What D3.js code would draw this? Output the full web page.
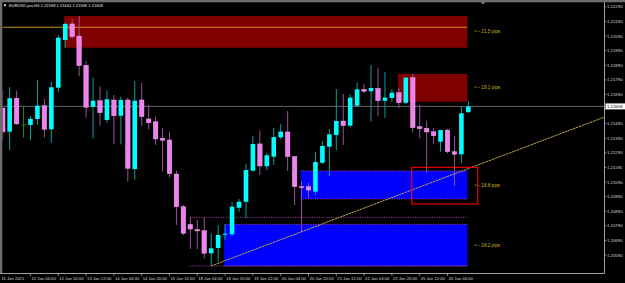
<!DOCTYPE html>
<html>
<head>
<meta charset="utf-8">
<script src="https://cdn.jsdelivr.net/npm/d3@7"></script>
<style>
  html, body { margin: 0; padding: 0; background: #000; overflow: hidden; }
  svg { display: block; font-family: "Liberation Sans", Arial, sans-serif; }
</style>
</head>
<body>
<div id="chart"></div>
<script>
// EURUSD.pro H4, one value per bar, first bar = 11 Jan 12:00
const opens = [1.21597,1.21435,1.21664,1.21485,1.21481,1.21522,1.21613,1.21451,1.21736,1.22063,
  1.22173,1.22090,1.21890,1.21606,1.21647,1.21515,1.21652,1.21544,1.21652,1.21179,
  1.21652,1.21522,1.21503,1.21390,1.21378,1.21145,1.20921,1.20800,1.20766,1.20757,
  1.20602,1.20638,1.20732,1.20732,1.20914,1.20955,1.21168,1.21351,1.21198,1.21264,
  1.21396,1.21433,1.21264,1.21058,1.21058,1.21024,1.21222,1.21332,1.21412,1.21508,
  1.21476,1.21613,1.21725,1.21712,1.21732,1.21647,1.21666,1.21702,1.21633,1.21805,
  1.21469,1.21458,1.21435,1.21366,1.21446,1.21298,1.21280,1.21568];
const highs = [1.21720,1.21741,1.21716,1.21611,1.21542,1.21789,1.21659,1.21777,1.22097,1.22184,
  1.22207,1.22227,1.21919,1.21805,1.21743,1.21716,1.21686,1.21675,1.21668,1.21782,
  1.21770,1.21618,1.21538,1.21458,1.21435,1.21168,1.20933,1.20848,1.20830,1.20848,
  1.20739,1.20796,1.20796,1.20953,1.20974,1.21214,1.21405,1.21442,1.21291,1.21462,
  1.21488,1.21577,1.21268,1.21097,1.21085,1.21296,1.21371,1.21453,1.21727,1.21693,
  1.21691,1.21770,1.21762,1.21892,1.21873,1.21844,1.21727,1.21732,1.21810,1.21830,
  1.21618,1.21510,1.21458,1.21446,1.21453,1.21405,1.21611,1.21644];
const lows = [1.21378,1.21309,1.21481,1.21394,1.21378,1.21481,1.21394,1.21359,1.21709,1.22010,
  1.22070,1.21816,1.21533,1.21390,1.21476,1.21496,1.21348,1.21348,1.21092,1.21104,
  1.21474,1.21451,1.21344,1.21161,1.21122,1.20796,1.20727,1.20631,1.20631,1.20568,
  1.20515,1.20544,1.20693,1.20720,1.20887,1.20842,1.21161,1.21138,1.21172,1.21207,
  1.21383,1.21166,1.20933,1.20746,1.20979,1.21001,1.21214,1.21131,1.21309,1.21344,
  1.21465,1.21606,1.21698,1.21503,1.21542,1.21529,1.21640,1.21597,1.21625,1.21428,
  1.21390,1.21152,1.21348,1.21298,1.21287,1.21063,1.21218,1.21568];
const closes = [1.21433,1.21664,1.21488,1.21485,1.21522,1.21613,1.21451,1.21739,1.22079,1.22173,
  1.22086,1.21887,1.21602,1.21647,1.21565,1.21657,1.21544,1.21652,1.21184,1.21647,
  1.21538,1.21496,1.21385,1.21376,1.21147,1.20921,1.20739,1.20768,1.20755,1.20602,
  1.20636,1.20727,1.20736,1.20921,1.20955,1.21172,1.21351,1.21200,1.21273,1.21398,
  1.21435,1.21264,1.21058,1.21054,1.21035,1.21227,1.21337,1.21417,1.21508,1.21476,
  1.21668,1.21725,1.21712,1.21734,1.21647,1.21668,1.21702,1.21633,1.21805,1.21462,
  1.21455,1.21433,1.21407,1.21446,1.21298,1.21280,1.21561,1.21608];

const priceTicks = [1.2229,1.2219,1.2209,1.2199,1.2189,1.2179,1.2169,1.2159,1.2149,
  1.2139,1.2129,1.2119,1.2109,1.2099,1.2089,1.2079,1.2069,1.2059];
const timeTickBars = [4,8,12,16,20,24,28,32,36,40,44,48,52,56,60,64];
const timeTickLabels = ["12 Jan 04:00","12 Jan 20:00","13 Jan 12:00","14 Jan 04:00","14 Jan 20:00",
  "15 Jan 12:00","18 Jan 04:00","18 Jan 20:00","19 Jan 12:00","20 Jan 04:00","20 Jan 20:00",
  "21 Jan 12:00","22 Jan 04:00","22 Jan 20:00","25 Jan 12:00","26 Jan 04:00"];
const firstDate = "11 Jan 2021";
const title = "EURUSD.pro,H4  1.21568 1.21644 1.21568 1.21608";

// zones: start bar, top price, bottom price, pips text
const supplyZones = [
  {start: 9, top: 1.22227, bottom: 1.22010, pips: "21.5"},
  {start: 57, top: 1.21830, bottom: 1.21640, pips: "19.1"}
];
const demandZones = [
  {start: 43, top: 1.21166, bottom: 1.20974, pips: "18.8"},
  {start: 32, top: 1.20800, bottom: 1.20515, pips: "28.2"}
];
const zoneEndBar = 67;
const dottedLevels = [{start: 27, price: 1.20848}, {start: 27, price: 1.20515}];
const goldLevel = 1.22150;
const trendPoints = [{bar: 30, price: 1.20515}, {bar: 65, price: 1.21146}];
const focusBox = {start: 59, end: 68.5, top: 1.21191, bottom: 1.20940};
const lastPrice = 1.21608;

const W = 625, H = 283;
const plotRight = 604, plotBottom = 273, plotTop = 2.5, plotLeft = 2.5;

const svg = d3.select("#chart").append("svg").attr("width", W).attr("height", H);
svg.append("rect").attr("width", W).attr("height", H).attr("fill", "#000");

const x = d3.scaleLinear().domain([0, 67]).range([2.7, 468.35]);
const y = d3.scaleLinear().domain([1.2046, 1.2229]).range([274, 6.85]);

svg.append("clipPath").attr("id", "plot")
  .append("rect").attr("x", plotLeft).attr("y", plotTop)
  .attr("width", plotRight - plotLeft).attr("height", plotBottom - plotTop);

const g = svg.append("g").attr("clip-path", "url(#plot)");

// zones
const zoneX = b => x(b) - 1;
g.selectAll("rect.supply").data(supplyZones).join("rect")
  .attr("x", d => zoneX(d.start)).attr("y", d => y(d.top))
  .attr("width", d => zoneX(zoneEndBar) - zoneX(d.start))
  .attr("height", d => y(d.bottom) - y(d.top))
  .attr("fill", "#800000");
g.selectAll("rect.demand").data(demandZones).join("rect")
  .attr("x", d => zoneX(d.start)).attr("y", d => y(d.top))
  .attr("width", d => zoneX(zoneEndBar) - zoneX(d.start))
  .attr("height", d => y(d.bottom) - y(d.top))
  .attr("fill", "#0000ff");

// dotted edges
const dotted = [];
demandZones.forEach(d => { dotted.push({start: d.start, price: d.top}); dotted.push({start: d.start, price: d.bottom}); });
dottedLevels.forEach(d => dotted.push(d));
g.selectAll("line.dot").data(dotted).join("line")
  .attr("x1", d => zoneX(d.start)).attr("x2", zoneX(zoneEndBar))
  .attr("y1", d => y(d.price)).attr("y2", d => y(d.price))
  .attr("stroke", "#b04aa8").attr("stroke-width", 0.8).attr("stroke-dasharray", "1.2,1.2");

// horizontal levels
g.append("line").attr("x1", plotLeft).attr("x2", zoneX(zoneEndBar))
  .attr("y1", y(goldLevel)).attr("y2", y(goldLevel))
  .attr("stroke", "#d9a21b").attr("stroke-width", 0.9);
g.append("line").attr("x1", plotLeft).attr("x2", plotRight)
  .attr("y1", y(lastPrice)).attr("y2", y(lastPrice))
  .attr("stroke", "#7a7a7a").attr("stroke-width", 0.8);

// candles
const bars = opens.map((o, i) => ({i, o, h: highs[i], l: lows[i], c: closes[i]}));
const upWick = "#0a9e9e", dnWick = "#96509a";
const candle = g.selectAll("g.c").data(bars).join("g");
candle.append("rect")
  .attr("x", d => x(d.i) - 0.5).attr("width", 1)
  .attr("y", d => y(d.h)).attr("height", d => Math.max(0.8, y(d.l) - y(d.h)))
  .attr("fill", d => d.c > d.o ? upWick : d.c < d.o ? dnWick : "#1f8a1f");
candle.append("rect")
  .attr("x", d => x(d.i) - 2.3).attr("width", 4.6)
  .attr("y", d => y(Math.max(d.o, d.c)))
  .attr("height", d => Math.max(1, Math.abs(y(d.o) - y(d.c))))
  .attr("fill", d => d.c > d.o ? "#00ffff" : d.c < d.o ? "#ee82ee" : "#1f8a1f")
  .attr("stroke", d => d.c < d.o ? "#f4b0f4" : "none")
  .attr("stroke-width", 0.4);

// trendline ray
const slope = (trendPoints[1].price - trendPoints[0].price) / (trendPoints[1].bar - trendPoints[0].bar);
const endBar = x.invert(plotRight);
g.append("line")
  .attr("x1", x(trendPoints[0].bar)).attr("y1", y(trendPoints[0].price))
  .attr("x2", x(endBar)).attr("y2", y(trendPoints[0].price + slope * (endBar - trendPoints[0].bar)))
  .attr("stroke", "#c2a650").attr("stroke-width", 1).attr("stroke-dasharray", "2.4,0.6");

// focus box
g.append("rect")
  .attr("x", zoneX(focusBox.start)).attr("y", y(focusBox.top))
  .attr("width", zoneX(focusBox.end) - zoneX(focusBox.start))
  .attr("height", y(focusBox.bottom) - y(focusBox.top))
  .attr("fill", "none").attr("stroke", "#ff0000").attr("stroke-width", 1.1);

// zone labels
svg.selectAll("text.zl").data(supplyZones.concat(demandZones)).join("text")
  .attr("x", zoneX(zoneEndBar) + 7).attr("y", d => y((d.top + d.bottom) / 2) + 1.6)
  .attr("font-size", 4.6).attr("fill", "#c9b226")
  .text(d => "<-- " + d.pips + " pips");

// frame
svg.append("rect").attr("x", 0).attr("y", 0).attr("width", 2.3).attr("height", plotBottom).attr("fill", "#6e6e6e");
svg.append("rect").attr("x", 0).attr("y", 0).attr("width", W).attr("height", 2.3).attr("fill", "#6e6e6e");
svg.append("line").attr("x1", plotRight + 0.5).attr("x2", plotRight + 0.5).attr("y1", 2.3).attr("y2", plotBottom + 0.5)
  .attr("stroke", "#c8c8c8").attr("stroke-width", 0.8);
svg.append("line").attr("x1", 0).attr("x2", plotRight + 0.5).attr("y1", plotBottom + 0.5).attr("y2", plotBottom + 0.5)
  .attr("stroke", "#c8c8c8").attr("stroke-width", 0.8);
// chart shift marker
svg.append("path").attr("d", "M481,2.3 L485,2.3 L483,4.3 Z").attr("fill", "#9a9a9a");

// price axis, labels hidden where the last price box sits
const shownTicks = priceTicks.filter(p => Math.abs(y(p) - y(lastPrice)) > 6);
const pa = svg.append("g");
pa.selectAll("line").data(priceTicks).join("line")
  .attr("x1", plotRight + 0.5).attr("x2", plotRight + 2.5)
  .attr("y1", d => y(d)).attr("y2", d => y(d))
  .attr("stroke", "#c8c8c8").attr("stroke-width", 0.6);
pa.selectAll("text").data(shownTicks).join("text")
  .attr("x", 607).attr("y", d => y(d) + 1.5)
  .attr("font-size", 4.3).attr("fill", "#d8d8d8")
  .text(d => d.toFixed(5));
svg.append("rect").attr("x", 605.5).attr("y", y(lastPrice) - 3).attr("width", 19.5).attr("height", 6).attr("fill", "#fff");
svg.append("text").attr("x", 607).attr("y", y(lastPrice) + 1.5)
  .attr("font-size", 4.3).attr("fill", "#000").text(lastPrice.toFixed(5));

// time axis
const ta = svg.append("g");
ta.selectAll("line").data(timeTickBars).join("line")
  .attr("x1", d => x(d)).attr("x2", d => x(d))
  .attr("y1", plotBottom + 0.5).attr("y2", plotBottom + 3)
  .attr("stroke", "#c8c8c8").attr("stroke-width", 0.6);
ta.selectAll("text").data(timeTickLabels).join("text")
  .attr("x", (d, i) => x(timeTickBars[i]) + 1).attr("y", 280)
  .attr("font-size", 4.2).attr("fill", "#d8d8d8")
  .text(d => d);
ta.append("text").attr("x", 1.5).attr("y", 280).attr("font-size", 4.2).attr("fill", "#d8d8d8").text(firstDate);

// title
svg.append("rect").attr("x", 4).attr("y", 4.3).attr("width", 2).attr("height", 1.8).attr("fill", "#e0e0e0");
svg.append("text").attr("x", 9).attr("y", 7.2).attr("font-size", 4.4).attr("fill", "#e0e0e0")
  .attr("textLength", 94).attr("lengthAdjust", "spacingAndGlyphs").text(title);
</script>
</body>
</html>
